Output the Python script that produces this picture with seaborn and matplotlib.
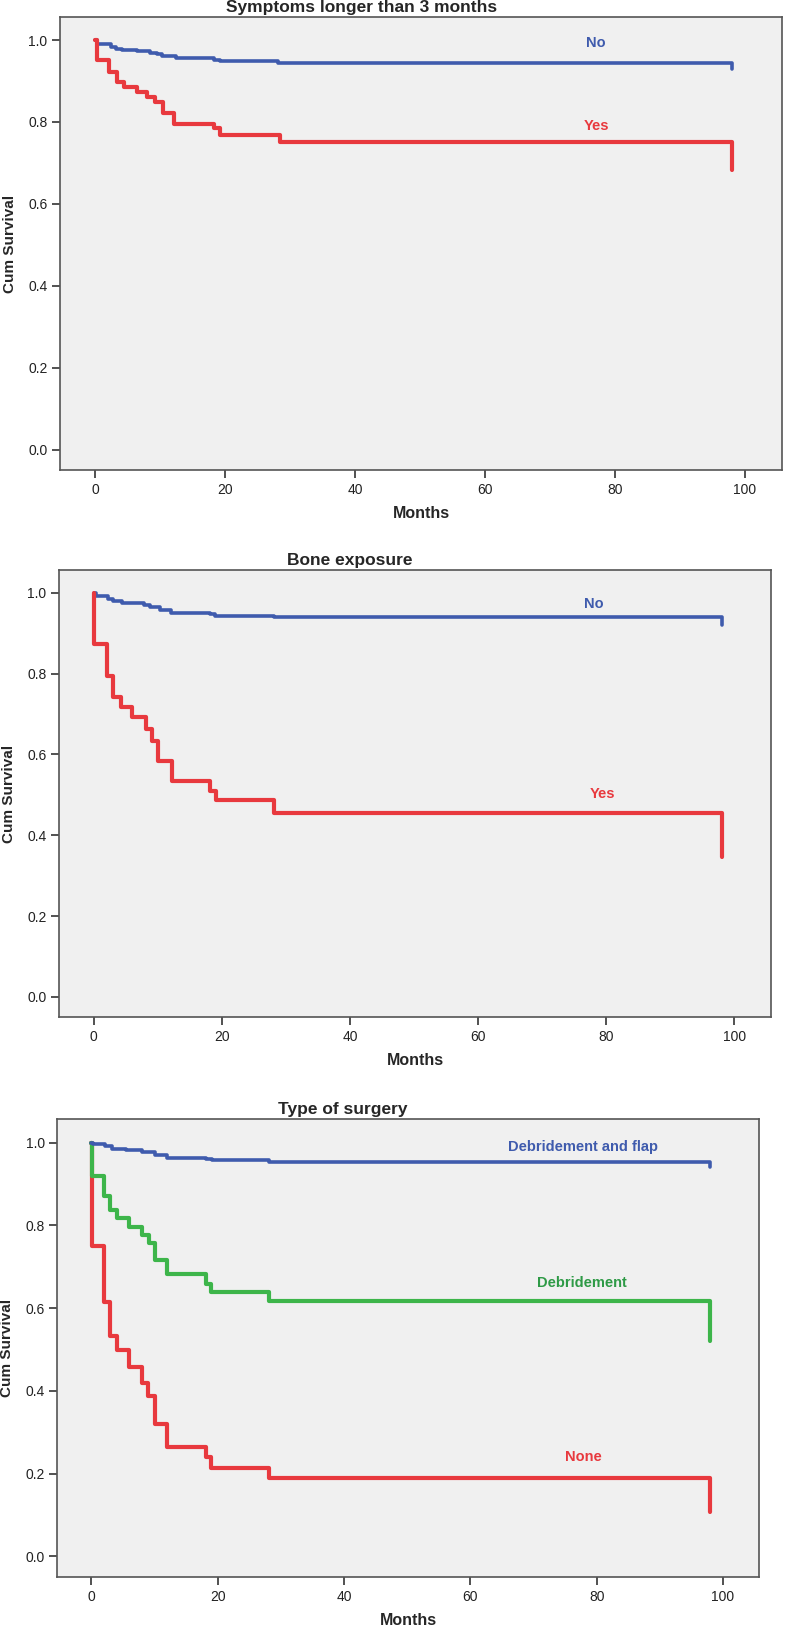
import matplotlib
matplotlib.use('Agg')
import matplotlib.pyplot as plt
import pandas as pd
import seaborn as sns

# survival step curves (months, cum survival)
# panel 1: symptoms longer than 3 months
sym_no_t = [0, 0.3, 2.4, 3.2, 4.2, 6.5, 8.5, 9.6, 10.3, 12.4, 18.3, 19.3, 28.2, 98]
sym_no_s = [1.0, 0.990, 0.984, 0.978, 0.976, 0.972, 0.969, 0.966, 0.961, 0.955, 0.952, 0.948, 0.943, 0.930]
sym_yes_t = [0, 0.3, 2.1, 3.4, 4.4, 6.5, 8.0, 9.3, 10.5, 12.2, 18.3, 19.3, 28.5, 98]
sym_yes_s = [1.0, 0.950, 0.921, 0.897, 0.885, 0.873, 0.861, 0.849, 0.822, 0.796, 0.784, 0.769, 0.751, 0.683]

# panel 2: bone exposure
bone_no_t = [0, 0.3, 2.3, 3.1, 4.4, 7.8, 8.8, 10.4, 12.0, 18.2, 19.0, 28.1, 98]
bone_no_s = [1.0, 0.991, 0.985, 0.979, 0.974, 0.970, 0.964, 0.958, 0.951, 0.948, 0.943, 0.940, 0.919]
bone_yes_t = [0, 0.1, 2.1, 3.0, 4.2, 6.0, 8.1, 9.1, 10.1, 12.2, 18.2, 19.1, 28.1, 98]
bone_yes_s = [1.0, 0.872, 0.795, 0.743, 0.717, 0.692, 0.663, 0.634, 0.584, 0.535, 0.510, 0.486, 0.456, 0.346]

# panel 3: type of surgery
flap_t = [0, 0.3, 2.2, 3.3, 5.4, 8.0, 10.1, 12.0, 18.1, 19.1, 28.1, 98]
flap_s = [1.0, 0.996, 0.992, 0.985, 0.982, 0.977, 0.970, 0.963, 0.961, 0.957, 0.954, 0.940]
debr_t = [0, 0.1, 1.95, 3.0, 4.1, 6.0, 8.0, 9.1, 10.1, 12.0, 18.2, 19.0, 28.1, 98]
debr_s = [1.0, 0.919, 0.870, 0.836, 0.817, 0.797, 0.777, 0.758, 0.716, 0.682, 0.659, 0.639, 0.617, 0.521]
none_t = [0, 0.1, 1.95, 3.0, 4.0, 6.0, 8.0, 9.0, 10.1, 12.0, 18.1, 19.0, 28.1, 98]
none_s = [1.0, 0.750, 0.614, 0.533, 0.498, 0.458, 0.420, 0.387, 0.320, 0.265, 0.241, 0.214, 0.190, 0.107]

titles = ['Symptoms longer than 3 months', 'Bone exposure', 'Type of surgery']
y_ticks = [0.0, 0.2, 0.4, 0.6, 0.8, 1.0]
x_ticks = [0, 20, 40, 60, 80, 100]

BLUE = '#3F5BAD'
RED = '#E8393E'
GREEN = '#3DB54A'

sns.set_theme(style='ticks')
plt.rcParams['font.family'] = ['Liberation Sans', 'DejaVu Sans']

fig = plt.figure(figsize=(7.87, 16.26), dpi=100)
boxes = [[0.0762, 0.7109, 0.9174, 0.2786],
         [0.0750, 0.3745, 0.9047, 0.2749],
         [0.0728, 0.0301, 0.8916, 0.2815]]
title_x = [0.418, 0.409, 0.407]

curves = [
    [(sym_no_t, sym_no_s, BLUE, 2.6, 'No', BLUE, 77.1, 0.992),
     (sym_yes_t, sym_yes_s, RED, 3.0, 'Yes', RED, 77.1, 0.79)],
    [(bone_no_t, bone_no_s, BLUE, 2.6, 'No', BLUE, 78.1, 0.973),
     (bone_yes_t, bone_yes_s, RED, 3.0, 'Yes', RED, 79.4, 0.503)],
    [(none_t, none_s, RED, 3.0, 'None', RED, 77.9, 0.241),
     (debr_t, debr_s, GREEN, 3.0, 'Debridement', '#2E9A46', 77.7, 0.660),
     (flap_t, flap_s, BLUE, 2.6, 'Debridement and flap', BLUE, 77.9, 0.989)],
]

for i, box in enumerate(boxes):
    ax = fig.add_axes(box)
    ax.set_facecolor('#F0F0F0')
    for t, s, col, lw, lab, tcol, lx, ly in curves[i]:
        df = pd.DataFrame({'Months': t, 'Cum Survival': s})
        sns.lineplot(data=df, x='Months', y='Cum Survival', ax=ax, color=col,
                     lw=lw, drawstyle='steps-post', estimator=None, sort=False)
        ax.text(lx, ly, lab, color=tcol, fontsize=10.5, fontweight='bold',
                ha='center', va='center')
    ax.set_xlim(-5.4, 105.7)
    ax.set_ylim(-0.05, 1.056)
    ax.set_xticks(x_ticks)
    ax.set_xticklabels([str(v) for v in x_ticks])
    ax.set_yticks(y_ticks)
    ax.set_yticklabels(['%.1f' % v for v in y_ticks])
    ax.tick_params(axis='both', length=6, width=1.2, color='#333333',
                   labelsize=10, labelcolor='#222222', pad=3)
    for sp in ax.spines.values():
        sp.set_visible(True)
        sp.set_color('#555555')
        sp.set_linewidth(1.2)
    ax.set_xlabel('Months', fontsize=11.5, fontweight='bold', labelpad=7)
    ax.set_ylabel('Cum Survival', fontsize=11, fontweight='bold', labelpad=8)
    ax.set_title(titles[i], fontsize=12.5, fontweight='bold', x=title_x[i], pad=4)

fig.savefig('out.png', dpi=100)
